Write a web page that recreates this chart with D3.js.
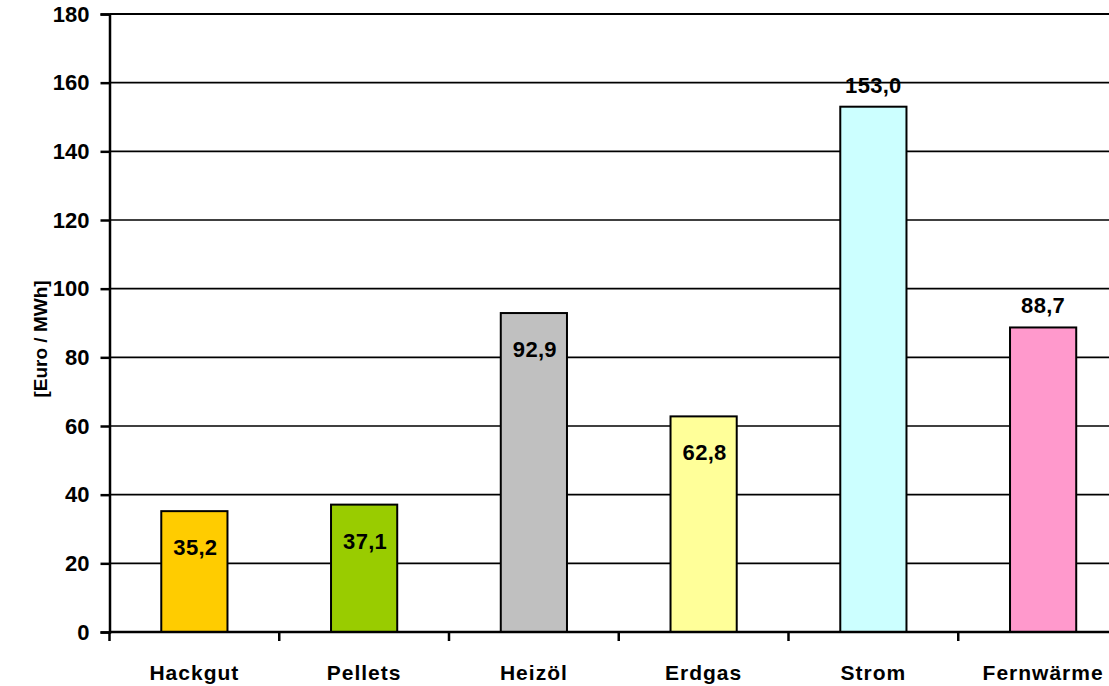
<!DOCTYPE html>
<html>
<head>
<meta charset="utf-8">
<script src="https://cdn.jsdelivr.net/npm/d3@7"></script>
<style>
  body { margin: 0; background: #fff; }
  text { font-family: "Liberation Sans", Arial, sans-serif; font-weight: bold; fill: #000; }
</style>
</head>
<body>
<div id="chart"></div>
<script>
// Data
const categories = ["Hackgut", "Pellets", "Heizöl", "Erdgas", "Strom", "Fernwärme"];
const values = [35.2, 37.1, 92.9, 62.8, 153.0, 88.7];
const colors = ["#FFCC00", "#99CC00", "#C0C0C0", "#FFFF99", "#CCFFFF", "#FF99CC"];
const labelInside = [true, true, true, true, false, false];
const yTicks = [0, 20, 40, 60, 80, 100, 120, 140, 160, 180];

const width = 1109;
const height = 686;

const svg = d3.select("#chart")
  .append("svg")
    .attr("width", width)
    .attr("height", height);

const x = d3.scaleBand()
  .domain(categories)
  .range([109.5, 1128])
  .padding(0);

const y = d3.scaleLinear()
  .domain([0, 180])
  .range([632, 14]);

const barW = x.bandwidth() * 0.39;

// Gridlines
svg.append("g")
  .selectAll("line")
  .data(yTicks.filter(d => d > 0))
  .join("line")
    .attr("x1", 109.5)
    .attr("x2", width)
    .attr("y1", d => y(d))
    .attr("y2", d => y(d))
    .attr("stroke", "#000")
    .attr("stroke-width", d => d === 180 ? 2 : 1.6);

// Bars
svg.append("g")
  .selectAll("rect")
  .data(values)
  .join("rect")
    .attr("x", (d, i) => x(categories[i]) + (x.bandwidth() - barW) / 2)
    .attr("y", d => y(d))
    .attr("width", barW)
    .attr("height", d => y(0) - y(d))
    .attr("fill", (d, i) => colors[i])
    .attr("stroke", "#000")
    .attr("stroke-width", 2);

// Value labels
svg.append("g")
  .selectAll("text")
  .data(values)
  .join("text")
    .attr("x", (d, i) => x(categories[i]) + x.bandwidth() / 2 + (labelInside[i] ? 1 : 0))
    .attr("y", (d, i) => labelInside[i] ? y(d) + 44 : y(d) - 14)
    .attr("text-anchor", "middle")
    .style("font-size", "22px")
    .style("letter-spacing", "0.3px")
    .text(d => d.toFixed(1).replace(".", ","));

// Y axis
const yAxis = svg.append("g")
  .attr("transform", "translate(109.5,0)")
  .call(d3.axisLeft(y).tickValues(yTicks).tickSize(9).tickPadding(11));
yAxis.select(".domain").attr("stroke", "#000").attr("stroke-width", 2.5);
yAxis.selectAll(".tick line").attr("stroke", "#000").attr("stroke-width", 2.5);
yAxis.selectAll(".tick text")
  .style("font-size", "22px")
  .style("font-family", "Liberation Sans, Arial, sans-serif")
  .style("font-weight", "bold")
  .attr("fill", "#000");

// X axis
const xAxis = svg.append("g")
  .attr("transform", `translate(0,${y(0)})`);
xAxis.append("line")
  .attr("x1", 109.5)
  .attr("x2", width)
  .attr("stroke", "#000")
  .attr("stroke-width", 2.5);
xAxis.selectAll(".xtick")
  .data(categories.slice(1))
  .join("line")
    .attr("class", "xtick")
    .attr("x1", d => x(d))
    .attr("x2", d => x(d))
    .attr("y1", 0)
    .attr("y2", 9)
    .attr("stroke", "#000")
    .attr("stroke-width", 2.5);
xAxis.append("line")
  .attr("x1", 109.5).attr("x2", 109.5)
  .attr("y1", 0).attr("y2", 9)
  .attr("stroke", "#000")
  .attr("stroke-width", 2.5);
xAxis.selectAll(".xlabel")
  .data(categories)
  .join("text")
    .attr("class", "xlabel")
    .attr("x", d => x(d) + x.bandwidth() / 2)
    .attr("y", 48)
    .attr("text-anchor", "middle")
    .style("font-size", "21px")
    .style("letter-spacing", "1px")
    .text(d => d);

// Y axis title
svg.append("text")
  .attr("transform", "translate(47,339) rotate(-90)")
  .attr("text-anchor", "middle")
  .style("font-size", "19px")
  .text("[Euro / MWh]");
</script>
</body>
</html>
